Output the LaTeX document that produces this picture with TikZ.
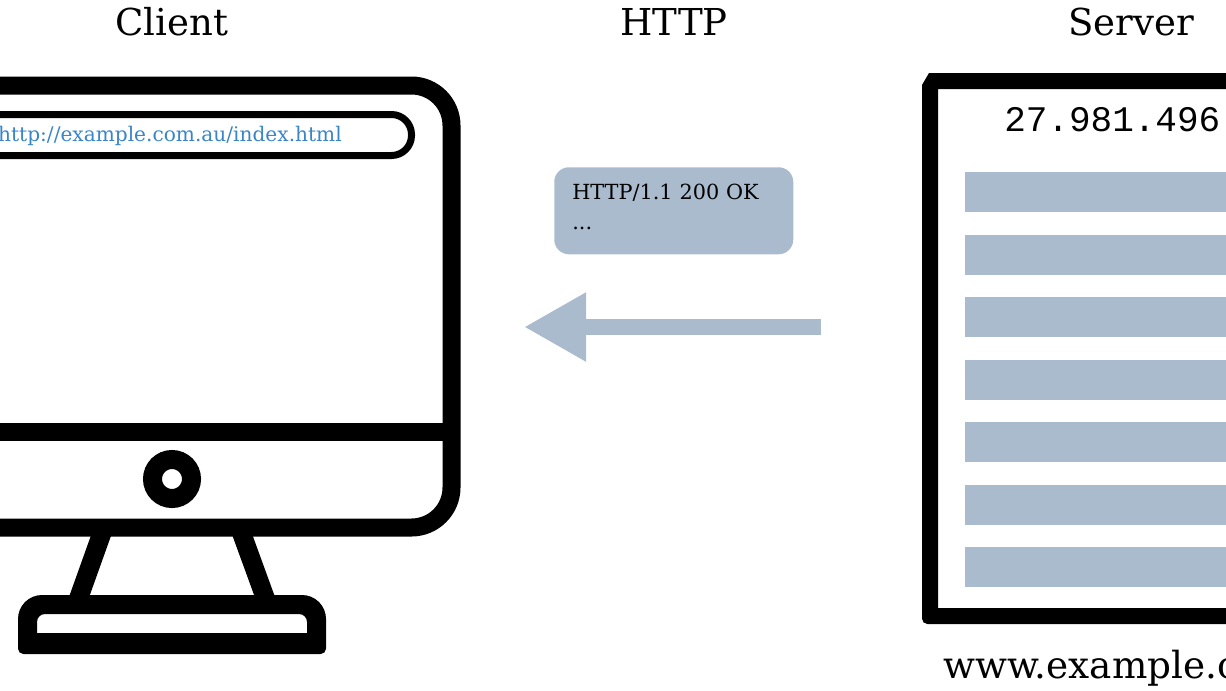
\documentclass[tikz,border=0pt]{standalone}
\usepackage{fontspec}
\setmainfont{DejaVu Serif}
\newfontfamily\ipfont{Liberation Mono}
\usetikzlibrary{arrows.meta}
\definecolor{slateblue}{HTML}{A9BBCD}
\definecolor{urlblue}{HTML}{3A85C6}
\begin{document}
\begin{tikzpicture}[x=0.75pt,y=-0.75pt,
    title_node/.style={anchor=base,inner sep=0pt,font=\fontsize{27.8}{32}\selectfont},
    msg_node/.style={anchor=north west,fill=slateblue,rounded corners=11pt,minimum width=179.25pt,minimum height=65.25pt,
        inner xsep=13.5pt,inner ysep=0pt,text width=152.25pt,text depth=28.25pt,align=left,font=\fontsize{15.6}{22.5}\selectfont},
    thick_line/.style={line width=13.5pt},
    row_fill/.style={fill=slateblue}]

     \useasboundingbox (0,0) rectangle (1226,690);

     \node[title_node] (client) at (172,35) {Client};
     \node[title_node] (http) at (674,35) {HTTP};
     \node[title_node] (server) at (1131,35) {Server};

     % monitor
     \draw[thick_line,rounded corners=30pt] (-108,85.5) rectangle (451.5,527.5);
     \draw[thick_line] (-108,431.5) -- (451.5,431.5);
     \draw[line width=5.25pt,rounded corners=15pt] (-60,114.5) rectangle (411.5,155.5);
     \node[anchor=base east,inner sep=0pt,text=urlblue,font=\fontsize{15.1}{18}\selectfont] (url) at (342,141) {http://example.com.au/index.html};
     \node[circle,draw,line width=14.25pt,minimum size=29.25pt,inner sep=0pt] (power) at (172,479) {};
     \draw[line width=14.25pt] (103,530) -- (78,600);
     \draw[line width=14.25pt] (240.5,530) -- (266,600);
     \fill[even odd rule] (172,654) [rounded corners=4pt] -- (18,654) [rounded corners=18pt] -- (18,595) -- (326,595) [rounded corners=4pt] -- (326,654) -- cycle
        (37,633) [rounded corners=6pt] -- (37,614) -- (307,614) [sharp corners] -- (307,633) -- cycle;

     \coordinate (arrow_start) at (821,327);
     \coordinate (arrow_end) at (524,327);
     \node[msg_node] (response) at (554,167) {HTTP/1.1 200 OK\\...};
     \draw[draw=slateblue,line width=12pt,-{Triangle[length=46.5pt,width=48.5pt,fill=slateblue]}] (arrow_start) -- (arrow_end);

     % server page
     \fill[even odd rule] (1240,73) -- (929,73) -- (922,85) [rounded corners=4pt] -- (922,624) [sharp corners] -- (1240,624) -- cycle
        (938,89) -- (1240,89) -- (1240,608) -- (938,608) -- cycle;
     \node[anchor=base west,inner sep=0pt,font=\ipfont\fontsize{27}{32}\selectfont] (ip) at (1004,131) {27.981.496};
     \foreach \y in {172,234.5,297,359.5,422,484.5,547}
        \fill[row_fill] (965,\y) rectangle (1240,\y+40);
     \node[anchor=base west,inner sep=0pt,font=\fontsize{28}{34}\selectfont] (domain) at (943,678) {www.example.c};

 \end{tikzpicture}
\end{document}
